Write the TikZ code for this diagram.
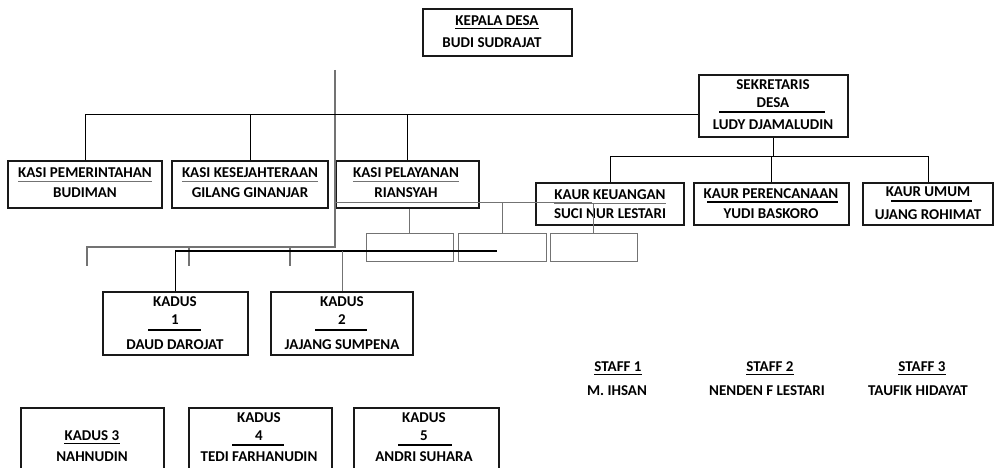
\documentclass[tikz,border=0pt]{standalone}
\usepackage{fontspec}
\setmainfont{Carlito}
\colorlet{line gray}{black!55}
\colorlet{box edge}{black!90}
\tikzset{
  box/.style={draw=box edge, line width=1.1pt, inner sep=0pt},
  emptybox/.style={draw=line gray, line width=1pt, inner sep=0pt},
  lbl/.style={inner sep=0pt, text height=0.64em, text depth=0pt, font=\fontsize{15}{17}\selectfont\bfseries},
  uline/.style={draw=black, line width=0.9pt},
  grayline/.style={draw=line gray, line width=0.9pt},
  bar/.style={draw=black, line width=1.8pt}
  }
\tikzstyle{conn} = [draw, line width=0.8pt, -]
\tikzstyle{trunk} = [draw, line width=1.2pt, line gray, -]
\tikzstyle{darkline} = [draw, line width=1.3pt, black, -]

\begin{document}
\begin{tikzpicture}[x=1pt,y=-1pt]
    \useasboundingbox (0,0) rectangle (994,468);

    % The boxes
    \foreach \l/\t/\r/\b/\name in {423/9/572/56/kepala, 699/75/848/137/sekdes,
        8/161/162/208/kasiA, 172/161/328/208/kasiB, 336/161/479/208/kasiC,
        536/183/684/225/kaurA, 694/183/849/225/kaurB, 863/183/993/225/kaurC,
        103/292/248/355/kadusA, 271/292/413/355/kadusB,
        21/408/164/474/kadusC, 189/408/332/474/kadusD, 354/408/499/474/kadusE} {
      \node[box, minimum width={(\r-\l)*1pt}, minimum height={(\b-\t)*1pt}] (\name) at ({(\l+\r)/2},{(\t+\b)/2}) {};
    }

    % the empty boxes
    \foreach \l/\r/\name in {366/453/emptyA, 458/546/emptyB, 550/637/emptyC} {
      \node[emptybox, minimum width={(\r-\l)*1pt}, minimum height=28pt] (\name) at ({(\l+\r)/2},247) {};
    }

    % The texts
    \foreach \pos/\name/\txt in {{(497,22)/kepalaT/KEPALA DESA}, {(492,44)/kepalaN/BUDI SUDRAJAT},
        {(773,86)/sekdesT/SEKRETARIS}, {(773,104)/sekdesU/DESA}, {(773,126)/sekdesN/LUDY DJAMALUDIN},
        {(85,174)/kasiAT/KASI PEMERINTAHAN}, {(85,194)/kasiAN/BUDIMAN},
        {(250,174)/kasiBT/KASI KESEJAHTERAAN}, {(250,194)/kasiBN/GILANG GINANJAR},
        {(406,174)/kasiCT/KASI PELAYANAN}, {(406,194)/kasiCN/RIANSYAH},
        {(610,196)/kaurAT/KAUR KEUANGAN}, {(610,215)/kaurAN/SUCI NUR LESTARI},
        {(771,195)/kaurBT/KAUR PERENCANAAN}, {(771,215)/kaurBN/YUDI BASKORO},
        {(928,193)/kaurCT/KAUR UMUM}, {(928,216)/kaurCN/UJANG ROHIMAT},
        {(175,303)/kadusAT/KADUS}, {(175,321)/kadusAU/1}, {(175,346)/kadusAN/DAUD DAROJAT},
        {(342,303)/kadusBT/KADUS}, {(342,321)/kadusBU/2}, {(342,346)/kadusBN/JAJANG SUMPENA},
        {(92,437)/kadusCT/KADUS 3}, {(92,458)/kadusCN/NAHNUDIN},
        {(259,419)/kadusDT/KADUS}, {(259,437)/kadusDU/4}, {(259,458)/kadusDN/TEDI FARHANUDIN},
        {(424,419)/kadusET/KADUS}, {(424,437)/kadusEU/5}, {(424,458)/kadusEN/ANDRI SUHARA},
        {(618,368)/staffAT/STAFF 1}, {(617,392)/staffAN/M. IHSAN},
        {(770,368)/staffBT/STAFF 2}, {(767,392)/staffBN/NENDEN F LESTARI},
        {(922,368)/staffCT/STAFF 3}, {(918,392)/staffCN/TAUFIK HIDAYAT}} {
      \node[lbl] (\name) at \pos {\txt};
    }

    % underlines
    \foreach \name in {kepalaT, kadusCT, staffAT, staffBT, staffCT} {
      \path[uline] ([yshift=-3.5pt]\name.south west) -- ([yshift=-3.5pt]\name.south east);
    }
    \foreach \name in {kasiAT, kasiBT, kasiCT, kaurAT} {
      \path[grayline] ([yshift=-4pt]\name.south west) -- ([yshift=-4pt]\name.south east);
    }
    \foreach \name/\dx/\dy/\len in {sekdesU/-54/8/106, kaurBT/-64/7/131, kaurCT/-37/8/81,
        kadusAU/-27/9/53, kadusBU/-27/9/52, kadusDU/-27/8/52, kadusEU/-26/8/54} {
      \path[bar] ([shift={(\dx,\dy)}]\name.center) -- ++(\len,0);
    }

    % helper points
    \coordinate (trunktop) at (335,70);
    \coordinate (trunkbot) at (335,247);
    \coordinate (tickbar) at (87,247);
    \coordinate (topbar) at (85,114);
    \coordinate (kaurbar) at (606,156);
    \coordinate (pelbar) at (336,203);
    \coordinate (pelbarend) at (592,203);
    \coordinate (darkend) at (497,251);

    % The connections between them
    \path[trunk] (trunktop) -- (trunkbot) -- (tickbar) -- ++(0,19);
    \foreach \x in {189,290} {
      \coordinate (tick\x) at (\x,247);
      \path[trunk] (tick\x) -- ++(0,19);
    }
    \path[conn] (topbar) -- (topbar -| sekdes.west);
    \foreach \name in {kasiA, kasiB, kasiC} {
      \path[conn] (\name.north) -- (\name.north |- topbar);
    }
    \path[conn] (sekdes.south) -- (sekdes.south |- kaurbar);
    \path[conn] (kaurA.north) |- (kaurbar -| kaurC.north) -- (kaurC.north);
    \path[conn] (kaurB.north) -- (kaurB.north |- kaurbar);
    \path[trunk, line width=1pt] (pelbar) -- (pelbarend);
    \path[trunk, line width=1pt] (emptyA.north) -- (emptyA.north |- kasiC.south);
    \foreach \name in {emptyB, emptyC} {
      \path[trunk, line width=1pt] (\name.north) -- (\name.north |- pelbar);
    }
    \path[darkline] (kadusA.north) |- (darkend);
    \path[trunk, line width=1pt] (kadusB.north) -- (kadusB.north |- darkend);
\end{tikzpicture}
\end{document}
